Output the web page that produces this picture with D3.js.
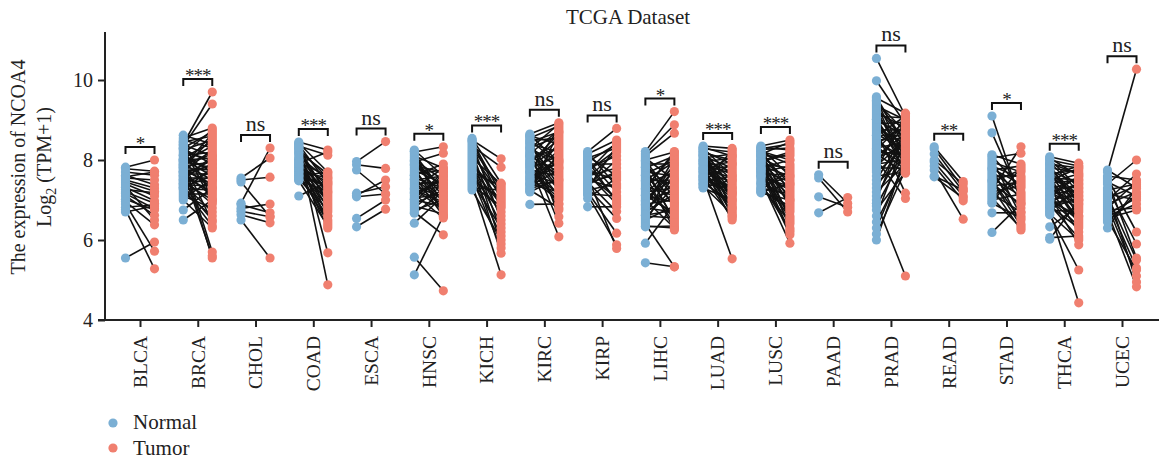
<!DOCTYPE html>
<html>
<head>
<meta charset="utf-8">
<script src="https://cdn.jsdelivr.net/npm/d3@7"></script>
<style>
  body { margin: 0; background: #fff; }
  text { font-family: "Liberation Serif", "Times New Roman", serif; fill: #222; }
</style>
</head>
<body>
<div id="plot"></div>
<script>
// cancer types and significance marks
const categories = ["BLCA","BRCA","CHOL","COAD","ESCA","HNSC","KICH","KIRC","KIRP",
  "LIHC","LUAD","LUSC","PAAD","PRAD","READ","STAD","THCA","UCEC"];
const signif = ["*","***","ns","***","ns","*","***","ns","ns",
  "*","***","***","ns","ns","**","*","***","ns"];
const yTicks = [4, 6, 8, 10];
const groups = ["Normal", "Tumor"];

// paired samples: [normal, tumor]
const pairsBLCA = [[7.82,8.0],[7.78,7.72],[7.7,7.62],[7.62,7.38],[7.58,7.7],[7.5,7.3],[7.45,7.22],[7.4,7.1],[7.32,6.98],[7.26,7.18],[7.2,6.92],[7.16,6.78],[7.1,6.62],[7.02,6.75],[6.96,6.38],[6.9,5.72],[6.82,6.88],[6.76,5.28],[5.55,5.95],[7.35,6.5],[6.7,6.85],[7.55,7.5]];
const pairsBRCA = [[8.62,8.4],[8.55,8.8],[8.5,8.3],[8.45,8.6],[8.4,9.7],[8.38,8.1],[8.35,9.4],[8.3,8.7],[8.28,7.9],[8.25,8.5],[8.2,8.0],[8.15,8.75],[8.12,7.7],[8.1,8.2],[8.05,8.45],[8.02,7.6],[8.0,8.05],[7.98,7.8],[7.95,8.35],[7.9,7.5],[7.88,8.15],[7.85,7.95],[7.82,7.3],[7.8,8.55],[7.78,7.75],[7.75,7.4],[7.72,8.25],[7.7,7.85],[7.68,7.1],[7.65,7.65],[7.62,8.0],[7.6,7.2],[7.58,7.9],[7.55,7.55],[7.52,6.9],[7.5,8.1],[7.48,7.45],[7.45,7.0],[7.42,7.7],[7.4,6.7],[7.38,7.35],[7.35,6.5],[7.32,7.6],[7.3,6.35],[7.28,7.25],[7.25,7.8],[7.2,6.6],[7.15,7.15],[7.1,6.8],[7.05,7.5],[7.0,6.3],[8.0,5.7],[7.9,5.55],[7.7,5.6],[6.75,7.3],[6.5,7.0],[8.3,6.95],[7.95,6.45],[8.45,7.05],[7.85,8.65]];
const pairsCHOL = [[7.55,8.05],[7.5,7.57],[7.45,6.58],[6.92,8.3],[6.88,6.68],[6.79,6.9],[6.72,6.58],[6.63,6.43],[6.5,5.55]];
const pairsCOAD = [[8.45,8.25],[8.42,7.7],[8.38,7.4],[8.35,8.12],[8.3,7.1],[8.28,7.55],[8.25,6.9],[8.2,7.65],[8.18,7.2],[8.15,6.6],[8.1,7.5],[8.05,7.0],[8.02,6.4],[8.0,7.35],[7.98,6.8],[7.95,7.6],[7.9,6.5],[7.88,7.25],[7.85,6.95],[7.82,7.45],[7.8,6.3],[7.78,7.15],[7.75,6.7],[7.72,7.55],[7.7,6.85],[7.68,7.3],[7.65,6.45],[7.62,7.05],[7.6,7.7],[7.58,6.6],[7.55,7.4],[7.52,6.75],[7.5,7.2],[7.48,6.35],[8.4,5.68],[8.32,4.88],[7.1,7.45],[7.92,8.2]];
const pairsESCA = [[7.96,8.46],[7.88,7.79],[7.75,7.15],[7.17,7.33],[7.08,7.15],[7.12,7.5],[6.54,7.0],[6.33,6.77]];
const pairsHNSC = [[8.25,7.6],[8.2,8.33],[8.15,7.2],[8.1,7.8],[8.05,6.9],[8.0,7.5],[7.95,8.17],[7.9,7.1],[7.85,7.7],[7.8,6.7],[7.75,7.4],[7.7,7.0],[7.65,7.75],[7.6,6.6],[7.55,7.3],[7.5,7.6],[7.45,6.8],[7.4,7.45],[7.35,7.05],[7.3,7.8],[7.25,6.95],[7.2,7.35],[7.15,6.55],[7.1,7.55],[7.05,7.15],[7.0,6.85],[6.95,7.65],[6.9,7.25],[6.85,6.65],[6.8,7.4],[6.75,7.0],[6.7,6.13],[6.67,7.2],[7.98,7.3],[7.62,7.9],[7.28,6.75],[6.42,7.1],[5.57,4.73],[5.13,6.6],[7.88,7.35],[7.52,7.0],[7.18,7.5],[8.22,6.6],[7.02,7.7]];
const pairsKICH = [[8.54,7.42],[8.5,8.03],[8.45,7.0],[8.4,6.5],[8.35,7.82],[8.3,7.3],[8.25,6.8],[8.2,6.2],[8.15,7.1],[8.1,5.9],[8.05,7.4],[8.0,6.6],[7.95,6.95],[7.9,5.67],[7.85,7.2],[7.8,6.4],[7.75,6.9],[7.7,7.35],[7.65,6.1],[7.6,6.7],[7.55,5.8],[7.5,7.05],[7.45,6.3],[7.4,5.13],[7.35,6.85],[7.3,7.25],[7.25,6.0],[8.48,7.15]];
const pairsKIRC = [[8.65,8.93],[8.6,8.4],[8.55,8.85],[8.5,7.9],[8.45,8.7],[8.4,8.2],[8.35,7.5],[8.3,8.6],[8.25,8.0],[8.2,7.3],[8.15,8.75],[8.1,7.7],[8.05,8.3],[8.0,7.1],[7.95,8.5],[7.9,7.85],[7.85,6.9],[7.8,8.1],[7.75,7.6],[7.7,8.8],[7.65,7.4],[7.6,8.25],[7.55,7.0],[7.5,7.95],[7.45,8.45],[7.4,7.2],[7.35,7.75],[7.3,8.15],[7.25,6.8],[7.2,7.55],[8.62,7.95],[8.42,7.35],[8.28,8.9],[8.12,6.75],[7.98,7.65],[7.82,8.35],[7.68,7.05],[7.52,8.05],[7.38,7.45],[8.58,6.58],[8.18,6.42],[7.88,6.08],[6.89,6.9],[8.48,8.55],[8.32,7.8],[8.08,7.25],[7.92,8.65],[7.72,7.15],[7.58,7.8],[7.42,8.0],[7.28,7.5],[7.22,8.7]];
const pairsKIRP = [[8.21,8.79],[8.15,8.5],[8.1,7.6],[8.05,8.3],[8.0,7.2],[7.95,8.4],[7.9,7.9],[7.85,7.0],[7.8,8.1],[7.75,7.5],[7.7,8.45],[7.65,6.9],[7.6,7.8],[7.55,8.2],[7.5,7.3],[7.45,6.71],[7.4,7.7],[7.35,8.0],[7.3,6.54],[7.25,7.4],[7.2,6.17],[7.15,7.1],[7.13,5.88],[7.04,7.55],[6.83,6.83],[8.18,7.35],[7.98,6.95],[7.72,8.25],[7.58,5.79],[7.42,7.65],[7.28,8.35],[7.62,7.05]];
const pairsLIHC = [[8.21,9.21],[8.15,8.88],[8.1,8.67],[8.05,7.5],[8.0,8.2],[7.95,6.8],[7.9,7.9],[7.85,7.2],[7.8,8.1],[7.75,6.5],[7.7,7.6],[7.65,8.0],[7.6,6.9],[7.55,7.4],[7.5,7.95],[7.45,6.4],[7.4,7.7],[7.35,7.1],[7.3,8.15],[7.25,6.6],[7.2,7.3],[7.15,7.85],[7.1,6.95],[7.05,7.55],[7.0,6.3],[6.95,7.75],[6.9,7.0],[6.85,8.05],[6.8,6.7],[6.75,7.45],[6.7,7.15],[6.65,7.8],[6.6,6.55],[6.55,7.35],[6.5,6.85],[6.45,7.65],[6.4,5.33],[6.35,6.3],[6.33,6.35],[5.92,6.9],[5.43,5.33],[7.98,7.05],[7.62,6.25],[7.28,8.21],[6.98,7.25],[6.62,6.75],[7.82,6.45],[7.48,7.5],[7.12,6.65],[6.88,7.9]];
const pairsLUAD = [[8.35,8.29],[8.32,8.1],[8.3,7.6],[8.28,8.2],[8.25,7.3],[8.22,7.9],[8.2,7.0],[8.18,8.0],[8.15,7.5],[8.12,6.8],[8.1,7.8],[8.08,7.2],[8.05,8.15],[8.02,6.6],[8.0,7.7],[7.98,7.4],[7.95,8.05],[7.92,6.9],[7.9,7.65],[7.88,7.1],[7.85,7.95],[7.82,6.5],[7.8,7.55],[7.78,7.25],[7.75,7.85],[7.72,6.7],[7.7,7.45],[7.68,8.1],[7.65,7.05],[7.62,7.75],[7.6,6.55],[7.58,7.35],[7.55,5.53],[7.52,7.15],[7.5,7.9],[7.48,6.85],[7.45,7.6],[7.42,6.95],[7.4,7.3],[7.38,8.25],[7.35,6.65],[7.32,7.5],[7.3,7.0],[8.26,6.75],[8.14,6.6],[7.96,7.15],[7.76,6.8],[7.56,7.2]];
const pairsLUSC = [[8.35,8.5],[8.32,8.25],[8.3,7.6],[8.28,8.4],[8.25,7.2],[8.22,8.0],[8.2,6.8],[8.18,7.9],[8.15,7.4],[8.12,6.5],[8.1,8.1],[8.08,7.0],[8.05,7.7],[8.02,6.3],[8.0,7.5],[7.98,8.2],[7.95,6.9],[7.92,7.3],[7.9,7.8],[7.88,6.6],[7.85,7.6],[7.82,7.1],[7.8,8.0],[7.78,6.4],[7.75,7.45],[7.72,6.95],[7.7,7.85],[7.68,6.13],[7.65,7.25],[7.62,7.65],[7.6,6.7],[7.55,7.35],[7.5,5.92],[7.45,7.05],[7.4,7.55],[7.35,6.45],[7.3,7.15],[7.25,7.75],[7.22,6.85],[7.2,7.4],[8.26,8.3],[8.14,8.45],[7.96,8.15],[7.76,6.2],[7.58,6.55],[7.42,6.25],[7.28,6.75],[7.18,7.0]];
const pairsPAAD = [[7.63,6.92],[7.55,6.7],[7.08,6.82],[6.68,7.06]];
const pairsPRAD = [[10.54,9.1],[9.98,8.9],[9.58,8.3],[9.55,9.17],[9.5,8.0],[9.45,8.7],[9.4,7.8],[9.35,9.0],[9.3,8.5],[9.25,7.9],[9.2,8.8],[9.15,8.2],[9.1,9.05],[9.05,7.7],[9.0,8.6],[8.95,8.1],[8.9,8.95],[8.85,7.95],[8.8,8.4],[8.75,8.75],[8.7,7.17],[8.65,8.25],[8.6,9.1],[8.55,7.85],[8.5,8.55],[8.45,8.05],[8.4,8.85],[8.35,7.75],[8.3,8.45],[8.25,9.0],[8.2,8.15],[8.15,7.67],[8.1,8.65],[8.05,8.35],[8.0,7.04],[7.95,8.9],[7.9,8.0],[7.85,8.5],[7.8,7.8],[7.75,9.15],[7.7,8.3],[7.6,7.7],[7.5,8.7],[7.4,8.1],[7.3,8.6],[7.2,7.9],[7.1,8.4],[7.0,8.8],[6.92,5.1],[6.85,8.2],[6.75,7.7],[6.6,8.5],[6.45,7.9],[6.3,8.0],[6.15,7.75],[6.0,8.1],[9.48,8.45],[9.02,7.95],[8.62,8.6],[8.28,7.9]];
const pairsREAD = [[8.33,7.46],[8.28,7.3],[8.15,7.21],[8.0,7.4],[7.95,7.1],[7.85,6.98],[7.75,6.52],[7.6,7.25],[7.58,7.05]];
const pairsSTAD = [[9.1,6.95],[8.68,7.05],[8.13,7.9],[8.1,7.3],[8.05,8.17],[8.0,6.6],[7.95,7.7],[7.9,7.0],[7.85,7.55],[7.8,6.4],[7.75,7.85],[7.7,7.2],[7.65,6.8],[7.6,7.6],[7.55,7.1],[7.5,6.5],[7.45,7.75],[7.4,6.9],[7.35,7.45],[7.3,6.25],[7.25,8.33],[7.2,7.35],[7.15,6.7],[7.1,7.5],[7.05,6.3],[7.0,7.15],[6.95,7.8],[6.92,6.55],[6.68,6.68],[6.19,6.9],[7.78,7.4],[7.48,6.35]];
const pairsTHCA = [[8.08,7.92],[8.05,7.6],[8.0,7.85],[7.95,7.2],[7.9,7.8],[7.85,6.9],[7.8,7.7],[7.75,7.4],[7.7,6.6],[7.65,7.75],[7.6,7.1],[7.55,7.5],[7.5,6.4],[7.45,7.65],[7.4,7.0],[7.35,7.3],[7.3,6.2],[7.25,7.55],[7.2,6.8],[7.15,7.25],[7.1,7.6],[7.05,6.5],[7.0,7.15],[6.95,6.95],[6.9,7.45],[6.85,6.3],[6.8,7.05],[6.75,6.7],[6.7,7.35],[6.65,6.0],[6.63,5.25],[6.33,6.85],[6.06,6.1],[6.02,7.0],[8.02,7.3],[7.88,6.75],[7.72,7.0],[7.58,6.45],[7.42,7.5],[7.28,6.9],[7.12,5.88],[6.98,6.6],[6.82,7.2],[6.72,4.43],[7.92,7.65],[7.62,7.85],[7.38,6.55],[7.18,7.4],[7.02,6.35],[6.88,6.05],[7.78,7.1],[7.48,7.8]];
const pairsUCEC = [[7.75,7.3],[7.7,10.27],[7.6,7.5],[7.55,6.2],[7.45,7.1],[7.4,8.0],[7.3,5.9],[7.25,7.4],[7.15,7.0],[7.1,5.5],[7.05,7.35],[7.0,7.65],[6.95,5.3],[6.9,7.2],[6.85,5.1],[6.8,7.45],[6.75,6.8],[6.7,4.83],[6.65,7.05],[6.6,6.9],[6.5,5.25],[6.45,7.15],[6.3,7.3],[7.5,5.55],[7.2,4.95],[6.55,6.75]];

const pairs = {
  BLCA: pairsBLCA, BRCA: pairsBRCA, CHOL: pairsCHOL, COAD: pairsCOAD, ESCA: pairsESCA,
  HNSC: pairsHNSC, KICH: pairsKICH, KIRC: pairsKIRC, KIRP: pairsKIRP, LIHC: pairsLIHC,
  LUAD: pairsLUAD, LUSC: pairsLUSC, PAAD: pairsPAAD, PRAD: pairsPRAD, READ: pairsREAD,
  STAD: pairsSTAD, THCA: pairsTHCA, UCEC: pairsUCEC
};

const width = 1159, height = 465;
const axisX = 105, axisY = 320, topY = 32;
const dx = 14.5;

const colorNormal = "#7bafd4", colorTumor = "#f07f6f";
const color = d3.scaleOrdinal().domain(groups).range([colorNormal, colorTumor]);

const svg = d3.select("#plot").append("svg")
  .attr("width", width)
  .attr("height", height);

const x = d3.scalePoint().domain(categories).range([140, 1122]);
const y = d3.scaleLinear().domain([4, 11.2]).range([axisY, topY]);

// title
svg.append("text")
  .attr("x", 628).attr("y", 24)
  .attr("text-anchor", "middle")
  .style("font-size", "21px")
  .text("TCGA Dataset");

// y axis
const yAxis = svg.append("g")
  .attr("transform", `translate(${axisX},0)`)
  .call(d3.axisLeft(y).tickValues(yTicks).tickSize(7).tickPadding(5).tickFormat(d3.format("d")))
  .attr("font-family", null);
yAxis.select(".domain").remove();
yAxis.selectAll(".tick line").attr("stroke", "#222").attr("stroke-width", 2);
yAxis.selectAll(".tick text").style("font-size", "20px").attr("fill", "#222");
svg.append("line")
  .attr("x1", axisX).attr("x2", axisX)
  .attr("y1", topY).attr("y2", axisY + 1)
  .attr("stroke", "#222").attr("stroke-width", 2);

// x axis
const xAxis = svg.append("g")
  .attr("transform", `translate(0,${axisY})`)
  .call(d3.axisBottom(x).tickSize(7).tickFormat(""));
xAxis.select(".domain").remove();
xAxis.selectAll(".tick line").attr("stroke", "#222").attr("stroke-width", 2);
svg.append("line")
  .attr("x1", axisX - 7).attr("x2", width)
  .attr("y1", axisY).attr("y2", axisY)
  .attr("stroke", "#222").attr("stroke-width", 2);

svg.append("g").selectAll("text")
  .data(categories)
  .join("text")
  .attr("transform", d => `translate(${x(d)},336) rotate(-90)`)
  .attr("text-anchor", "end")
  .attr("dy", "0.35em")
  .style("font-size", "19.5px")
  .text(d => d);

// y axis title
const yTitle = svg.append("g")
  .attr("transform", `translate(0,167) rotate(-90)`);
yTitle.append("text")
  .attr("y", 25)
  .attr("text-anchor", "middle")
  .style("font-size", "20px")
  .text("The expression of NCOA4");
const t2 = yTitle.append("text")
  .attr("y", 51)
  .attr("text-anchor", "middle")
  .style("font-size", "20px");
t2.append("tspan").text("Log");
t2.append("tspan").attr("dy", 5).style("font-size", "14px").text("2");
t2.append("tspan").attr("dy", -5).text(" (TPM+1)");

// connecting lines
const plot = svg.append("g");
categories.forEach(c => {
  const g = plot.append("g");
  g.selectAll("line")
    .data(pairs[c])
    .join("line")
    .attr("x1", x(c) - dx).attr("x2", x(c) + dx)
    .attr("y1", d => y(d[0])).attr("y2", d => y(d[1]))
    .attr("stroke", "#111")
    .attr("stroke-width", 1.6);
});

// points
categories.forEach(c => {
  const g = plot.append("g");
  groups.forEach((grp, gi) => {
    g.selectAll(`circle.${grp}`)
      .data(pairs[c])
      .join("circle")
      .attr("class", grp)
      .attr("cx", x(c) + (gi === 0 ? -dx : dx))
      .attr("cy", d => y(d[gi]))
      .attr("r", 4.6)
      .attr("fill", color(grp));
  });
});

// significance brackets
categories.forEach((c, i) => {
  const vmax = d3.max(pairs[c], d => Math.max(d[0], d[1]));
  const yb = y(vmax) - 13;
  const x0 = x(c) - dx, x1 = x(c) + dx;
  svg.append("path")
    .attr("d", `M${x0},${yb + 7}V${yb}H${x1}V${yb + 7}`)
    .attr("fill", "none")
    .attr("stroke", "#111")
    .attr("stroke-width", 2);
  const s = signif[i];
  svg.append("text")
    .attr("x", x(c))
    .attr("y", s === "ns" ? yb - 4 : yb + 3)
    .attr("text-anchor", "middle")
    .style("font-size", s === "ns" ? "22px" : "19px")
    .style("letter-spacing", s === "ns" ? "0px" : "-1px")
    .text(s);
});

// legend
const legend = svg.append("g");
groups.forEach((grp, i) => {
  legend.append("circle")
    .attr("cx", 113).attr("cy", 423 + i * 25)
    .attr("r", 4.6)
    .attr("fill", color(grp));
  legend.append("text")
    .attr("x", 133).attr("y", 429 + i * 26)
    .style("font-size", "21px")
    .text(grp);
});
</script>
</body>
</html>
